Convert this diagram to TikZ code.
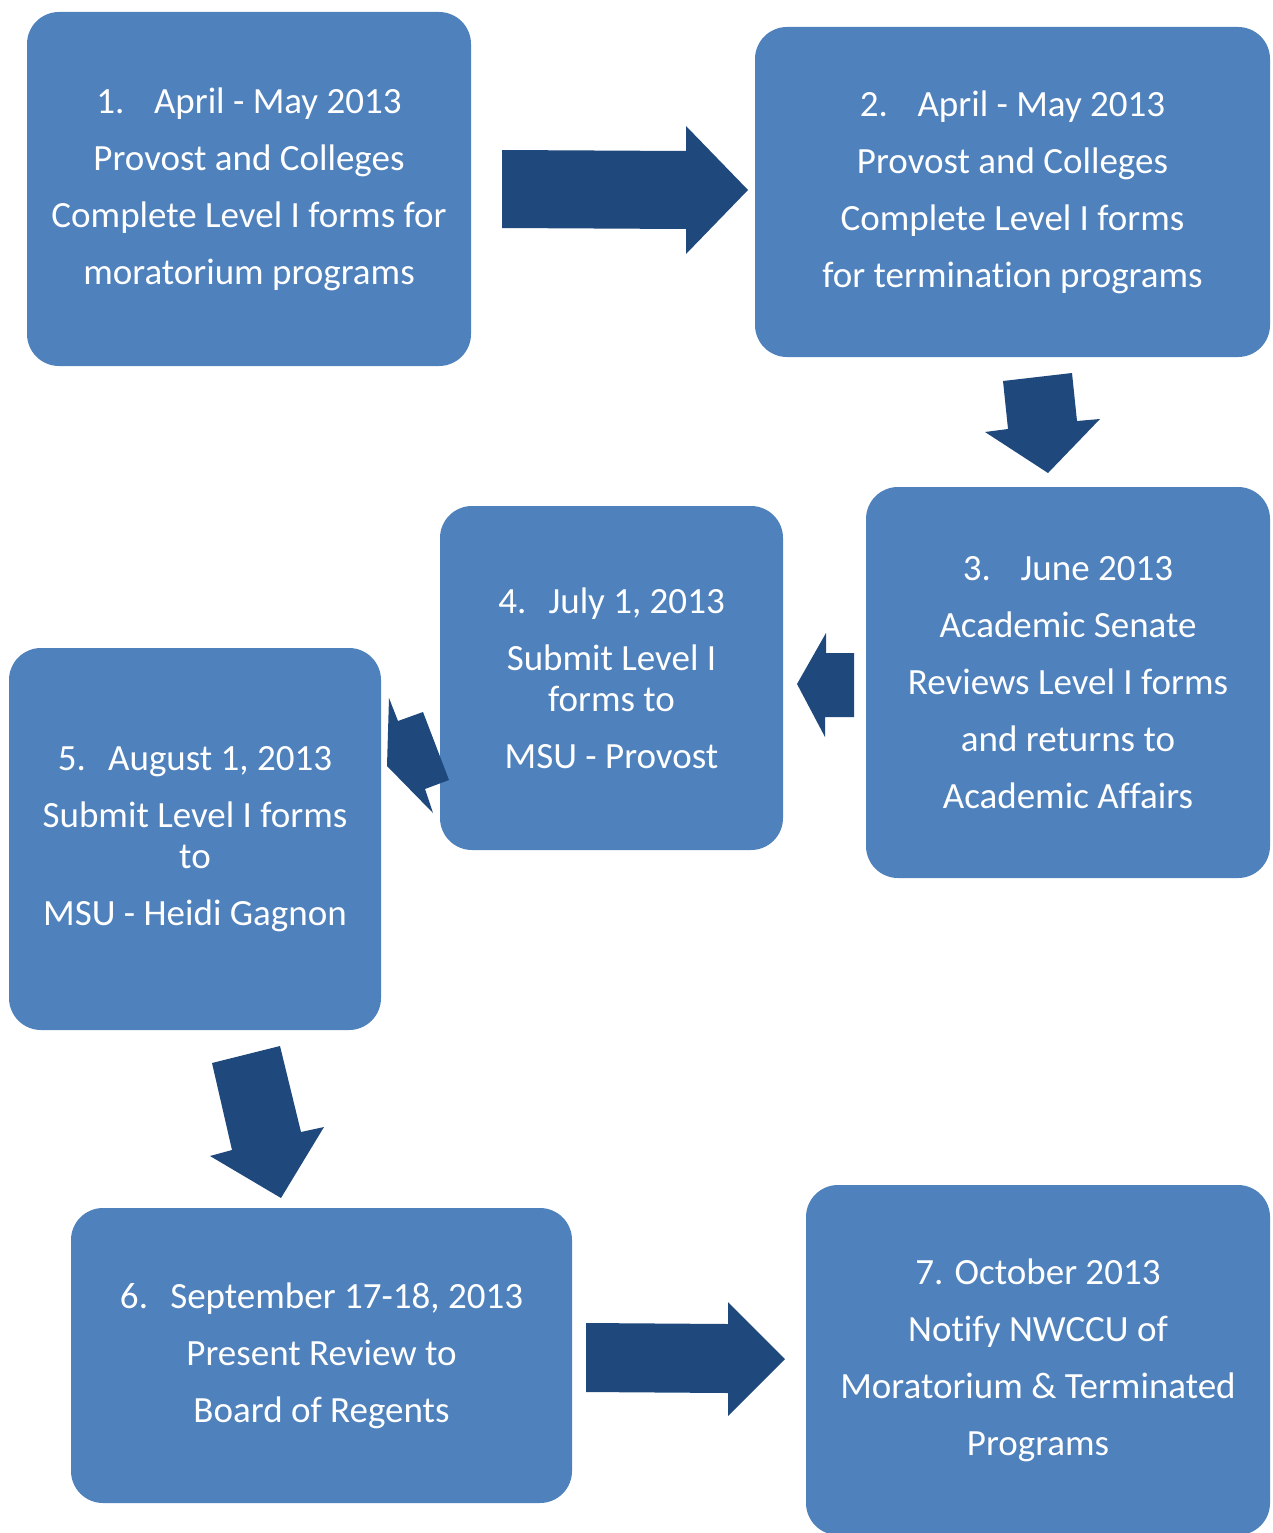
\documentclass[tikz,border=0pt]{standalone}
\usepackage{fontspec}
\setmainfont{Carlito}[Ligatures={NoCommon}]
\definecolor{boxblue}{HTML}{4F81BD}
\definecolor{arrowblue}{HTML}{1F497D}
\begin{document}
\begin{tikzpicture}[x=1pt,y=-1pt,
  stepbox/.style={fill=boxblue, draw=none, rounded corners=32pt, text=white, align=center,
    inner sep=0pt, font=\fontsize{37}{57}\selectfont},
  blockarrow/.style={fill=arrowblue, draw=none}]
\useasboundingbox (0,0) rectangle (1272,1533);
% boxes
\node[stepbox, minimum width=444pt, minimum height=354pt] (b1) at (249,189)
  {1.\hspace{0.8em}April - May 2013\\Provost and Colleges\\Complete Level I forms for\\moratorium programs};
\node[stepbox, minimum width=515pt, minimum height=330pt] (b2) at (1012.5,192)
  {2.\hspace{0.8em}April - May 2013\\Provost and Colleges\\Complete Level I forms\\for termination programs};
\node[stepbox, minimum width=404pt, minimum height=391pt] (b3) at (1068,682.5)
  {3.\hspace{0.8em}June 2013\\Academic Senate\\Reviews Level I forms\\and returns to\\Academic Affairs};
\node[stepbox, minimum width=343pt, minimum height=344pt] (b4) at (611.5,678)
  {4.\hspace{0.6em}July 1, 2013\\Submit Level I\\[-16pt]forms to\\MSU - Provost};
\node[stepbox, minimum width=372pt, minimum height=382pt] (b5) at (195,839)
  {5.\hspace{0.6em}August 1, 2013\\Submit Level I forms\\[-16pt]to\\MSU - Heidi Gagnon};
\node[stepbox, minimum width=501pt, minimum height=295pt] (b6) at (321.5,1355.5)
  {6.\hspace{0.6em}September 17-18, 2013\\Present Review to\\Board of Regents};
\node[stepbox, minimum width=464pt, minimum height=350pt] (b7) at (1038,1360)
  {7. October 2013\\Notify NWCCU of\\Moratorium \& Terminated\\Programs};
% block arrows
\fill[blockarrow] (502,150) -- (686,151) -- (686,126) -- (748,190) -- (686,254) -- (686,229) -- (502,228) -- cycle;
\fill[blockarrow] (1003,381) -- (1072,373) -- (1077,421) -- (1100,419) -- (1048,473) -- (985,432) -- (1008,429) -- cycle;
\fill[blockarrow] (854,653) -- (826,653) -- (826,633) -- (797,684) -- (825,737) -- (825,717) -- (854,717) -- cycle;
\fill[blockarrow] (389,698) -- (398,721) -- (423,712) -- (449,780) -- (425,789) -- (433,813) -- (387,766) -- cycle;
\fill[blockarrow] (212,1063) -- (280,1046) -- (301,1132) -- (324,1127) -- (281,1198) -- (210,1156) -- (232,1150) -- cycle;
\fill[blockarrow] (586,1323) -- (728,1324) -- (728,1302) -- (785,1359) -- (728,1416) -- (728,1393) -- (586,1392) -- cycle;
\end{tikzpicture}
\end{document}
